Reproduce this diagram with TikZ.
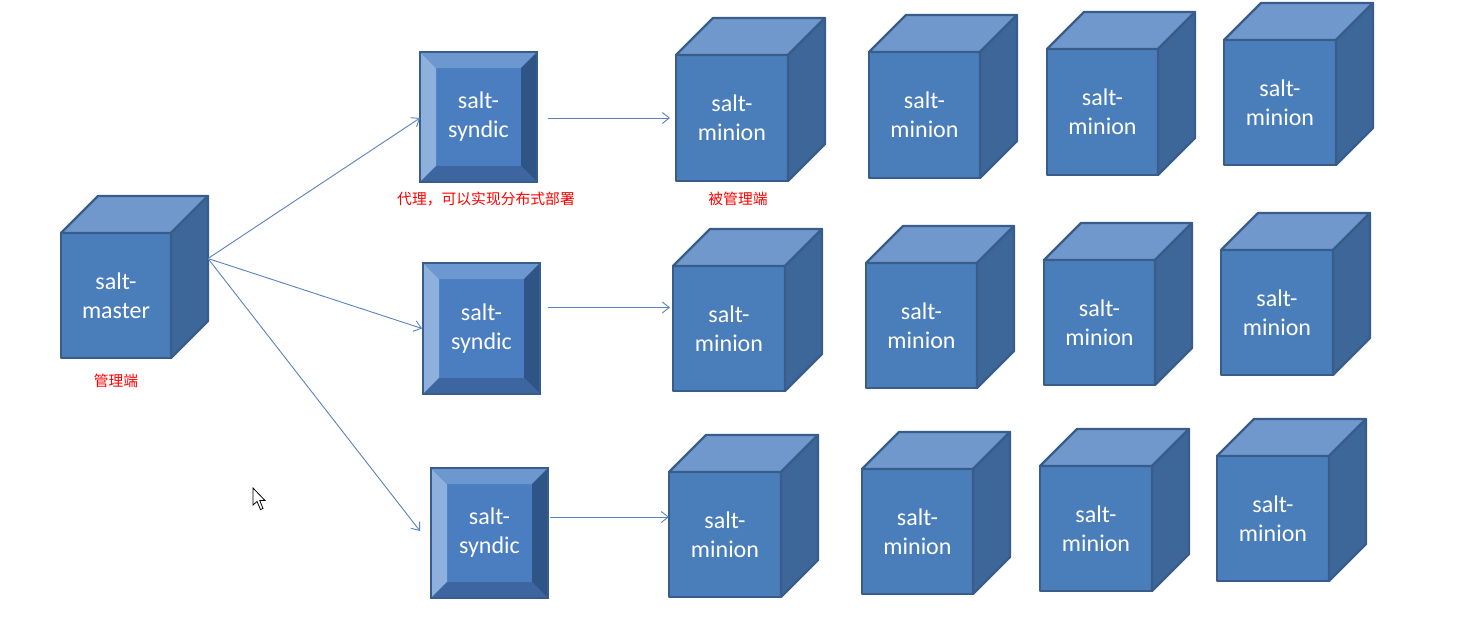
\documentclass[tikz,border=0pt]{standalone}
\usepackage{fontspec}
\setmainfont{Carlito}
\newfontfamily\cjk{Noto Sans CJK SC}
\usetikzlibrary{calc,arrows.meta}
\definecolor{cfront}{HTML}{4A7EBB}
\definecolor{ctop}{HTML}{7098CC}
\definecolor{cright}{HTML}{3D6699}
\definecolor{cborder}{HTML}{385D8A}
\definecolor{cinner}{HTML}{4A7EC0}
\definecolor{cleft}{HTML}{8DB0DC}
\definecolor{cbtop}{HTML}{6C97CF}
\definecolor{cbright}{HTML}{2F5587}
\definecolor{cbbottom}{HTML}{3D66A0}
\definecolor{clink}{HTML}{5A82BE}
\tikzset{
  cubefront/.style={draw=cborder, fill=cfront, line width=2.2pt, line join=round,
    inner sep=0pt, outer sep=0pt, text=white, font=\fontsize{24}{29}\selectfont,
    align=center, anchor=north west},
  cubetop/.style={fill=ctop, draw=cborder, line width=2.2pt, line join=round},
  cuberight/.style={fill=cright, draw=cborder, line width=2.2pt, line join=round},
  synbox/.style={fill=cinner, draw=cborder, line width=2.2pt, inner sep=0pt, outer sep=0pt,
    anchor=north west, text=white, font=\fontsize{24}{29}\selectfont, align=center,
    path picture={
      \coordinate (A) at (path picture bounding box.north west);
      \coordinate (B) at (path picture bounding box.north east);
      \coordinate (C) at (path picture bounding box.south west);
      \coordinate (D) at (path picture bounding box.south east);
      \fill[cleft] (A) -- (C) -- ($(C)+(16,-16)$) -- ($(A)+(16,16)$) -- cycle;
      \fill[cbtop] (A) -- (B) -- ($(B)+(-16,16)$) -- ($(A)+(16,16)$) -- cycle;
      \fill[cbright] (B) -- (D) -- ($(D)+(-16,-16)$) -- ($(B)+(-16,16)$) -- cycle;
      \fill[cbbottom] (C) -- (D) -- ($(D)+(-16,-16)$) -- ($(C)+(16,-16)$) -- cycle;
    }},
  link/.style={draw=clink, line width=0.9pt, -{Straight Barb[length=7pt,width=11pt]}},
  note/.style={text=red, font=\cjk\fontsize{14.8}{17}\selectfont, inner sep=0pt},
}
\newcommand\mycube[6]{%
  \node[cubefront, minimum width=#4pt, minimum height=#5pt] (#1) at (#2,#3) {#6};
  \draw[cubetop] (#1.north west) -- ++(37,-37) -- ++(#4,0) -- (#1.north east) -- cycle;
  \draw[cuberight] (#1.north east) -- ++(37,-37) -- ++(0,#5) -- (#1.south east) -- cycle;
}
\newcommand\mysyndic[5]{%
  \node[synbox, minimum width=#4pt, minimum height=#5pt] (#1) at (#2,#3) {salt-\\syndic};
}
\begin{document}
\begin{tikzpicture}[x=1pt,y=-1pt]
\useasboundingbox (0,0) rectangle (1458,637);
\fill[white] (0,0) rectangle (1458,637);
% master
\mycube{master}{61}{233}{110}{125}{salt-\\master}
% syndics
\mysyndic{s1}{420}{52}{117}{130}
\mysyndic{s2}{423}{263}{117}{131}
\mysyndic{s3}{431}{468}{117}{130}
% minions
\mycube{m11}{676}{55}{112}{126}{salt-\\minion}
\mycube{m12}{869}{52}{111}{126}{salt-\\minion}
\mycube{m13}{1047}{49}{111}{126}{salt-\\minion}
\mycube{m14}{1224}{40}{112}{125}{salt-\\minion}
\mycube{m21}{673}{266}{112}{125}{salt-\\minion}
\mycube{m22}{866}{263}{111}{125}{salt-\\minion}
\mycube{m23}{1044}{260}{111}{125}{salt-\\minion}
\mycube{m24}{1221}{250}{112}{125}{salt-\\minion}
\mycube{m31}{669}{472}{112}{125}{salt-\\minion}
\mycube{m32}{862}{469}{111}{125}{salt-\\minion}
\mycube{m33}{1040}{466}{112}{125}{salt-\\minion}
\mycube{m34}{1217}{456}{112}{125}{salt-\\minion}
% connectors
\coordinate (mout) at ($(master.east)+(37,-37)$);
\draw[link] (mout) -- ($(s1.west)+(0,1)$);
\draw[link] (mout) -- ($(s2.west)+(-1,0)$);
\draw[link] (mout) -- ($(s3.west)+(-11,-2)$);
\draw[link] ($(s1.east)+(11,1)$) -- ($(m11.west)+(-6,0)$);
\draw[link] ($(s2.east)+(8,-21)$) -- ($(m21.west)+(-3,-21)$);
\draw[link] ($(s3.east)+(2,-16)$) -- ($(m31.west)+(0,-17.5)$);
% labels
\node[note] (lmaster) at (116,381) {管理端};
\node[note] (lsyndic) at (486,199) {代理，可以实现分布式部署};
\node[note] (lminion) at (738,199) {被管理端};
% mouse cursor
\draw[fill=white, line width=0.8pt, line join=miter]
  (253,488) -- (253,505) -- (257,501.5) -- (260.5,509.5) -- (263,508.5) -- (259.8,500.5) -- (265,500.5) -- cycle;
\end{tikzpicture}
\end{document}
